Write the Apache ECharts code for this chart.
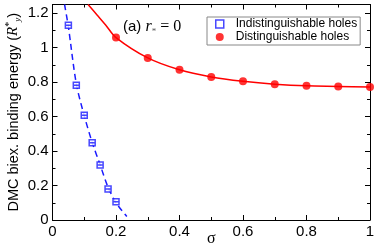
<!DOCTYPE html>
<html><head><meta charset="utf-8">
<script src="https://cdn.jsdelivr.net/npm/echarts@6/dist/echarts.min.js"></script>
<style>html,body{margin:0;padding:0;background:#fff}#c{width:374px;height:247px}</style>
</head><body><div id="c"></div>
<script>
// Data
const indistSigma = [0.05, 0.075, 0.1, 0.125, 0.15, 0.175, 0.2];
const indistEnergy = [1.13, 0.782, 0.608, 0.448, 0.319, 0.18, 0.106];
const distSigma = [0.2, 0.3, 0.4, 0.5, 0.6, 0.7, 0.8, 0.9, 1.0];
const distEnergy = [1.058, 0.94, 0.871, 0.83, 0.805, 0.788, 0.778, 0.775, 0.771];
// fitted curves
const indistFitSigma = [0.038, 0.05, 0.075, 0.1, 0.125, 0.15, 0.175, 0.2, 0.234];
const indistFitEnergy = [1.25, 1.12, 0.79, 0.605, 0.45, 0.32, 0.19, 0.1, 0.02];
const distFitSigma = [0.112, 0.141, 0.168, 0.2, 0.3, 0.4, 0.5, 0.6, 0.7, 0.8, 0.9, 1.0];
const distFitEnergy = [1.25, 1.188, 1.13, 1.058, 0.94, 0.871, 0.83, 0.805, 0.788, 0.778, 0.775, 0.771];
const xTicks = [0, 0.2, 0.4, 0.6, 0.8, 1];
const yTicks = [0, 0.2, 0.4, 0.6, 0.8, 1, 1.2];

const zip = (a, b) => a.map((v, i) => [v, b[i]]);
const BLUE = '#1a1aff', RED = '#ff0000';
const sans = 'Liberation Sans, Arial, sans-serif';
const serif = 'Liberation Serif, Times New Roman, serif';
const SQUARE = 'path://M0,0H10V10H0ZM0,5H10';

function axisBase(pos, labels) {
  return {
    type: 'value', position: pos,
    nameMoveOverlap: false,
    axisLine: { show: true, onZero: false, lineStyle: { color: '#000', width: 1 } },
    axisTick: { show: true, inside: true, length: 5, lineStyle: { color: '#000', width: 1 } },
    minorTick: { show: true, splitNumber: 2, length: 3, lineStyle: { color: '#000', width: 1 } },
    splitLine: { show: false },
    axisLabel: labels ? {
      show: true, color: '#000', fontSize: 15, fontFamily: sans, margin: 4,
      showMaxLabel: pos === 'left' ? false : true,
      formatter: v => (xTicks.concat(yTicks).some(t => Math.abs(t - v) < 1e-6) ? String(+(+v).toFixed(1)) : '')
    } : { show: false }
  };
}

const chart = echarts.init(document.getElementById('c'), null, { renderer: 'canvas' });
const option = {
  animation: false,
  backgroundColor: '#fff',
  grid: { left: 52.5, right: 4, top: 4.5, bottom: 27, containLabel: false, outerBoundsMode: 'none' },
  xAxis: [
    Object.assign(axisBase('bottom', true), { min: 0, max: 1, interval: 0.2,
      name: 'σ', nameLocation: 'middle', nameGap: 11,
      nameTextStyle: { fontSize: 16, fontFamily: serif, color: '#000' } }),
    Object.assign(axisBase('top', false), { min: 0, max: 1, interval: 0.2 })
  ],
  yAxis: [
    Object.assign(axisBase('left', true), { min: 0, max: 1.25, interval: 0.2,
      name: '{t|DMC biex. binding energy (}{i|R}{sup|*}{sub|y}{t|)}',
      nameLocation: 'middle', nameGap: 30,
      nameTextStyle: { color: '#000', rich: {
        t: { fontSize: 14.5, fontFamily: sans, color: '#000' },
        i: { fontSize: 15, fontFamily: serif, fontStyle: 'italic', color: '#000' },
        sup: { fontSize: 10, fontFamily: serif, color: '#000', verticalAlign: 'top', lineHeight: 18 },
        sub: { fontSize: 9, fontFamily: serif, fontStyle: 'italic', color: '#000', verticalAlign: 'bottom', lineHeight: 18 }
      } } }),
    Object.assign(axisBase('right', false), { min: 0, max: 1.25, interval: 0.2 })
  ],
  legend: {
    orient: 'vertical', left: 207, top: 17,
    padding: [1, 3, 2, 8], itemGap: 1,
    itemWidth: 8, itemHeight: 8,
    borderColor: '#888', borderWidth: 1,
    textStyle: { fontSize: 12, fontFamily: sans, color: '#000', padding: [0, 0, 0, 7] },
    data: [{ name: 'Indistinguishable holes', icon: 'rect', itemStyle: { color: '#fff', borderColor: BLUE, borderWidth: 1.5 } },
           { name: 'Distinguishable holes', icon: 'circle' }]
  },
  graphic: [{
    type: 'text', left: 123, top: 19,
    style: {
      text: '{a|(a) }{r|r}{s|*}{e| = 0}',
      rich: {
        a: { fontSize: 15, fontFamily: sans, fill: '#000' },
        r: { fontSize: 16, fontFamily: serif, fontStyle: 'italic', fill: '#000' },
        s: { fontSize: 9, fontFamily: serif, fill: '#555', verticalAlign: 'bottom', lineHeight: 18 },
        e: { fontSize: 16, fontFamily: serif, fill: '#000' }
      }
    }
  }],
  series: [
    { type: 'line', name: 'indistFit', data: zip(indistFitSigma, indistFitEnergy), smooth: 0.3,
      showSymbol: false, symbol: 'none', lineStyle: { color: BLUE, width: 1.5, type: [6, 4] }, z: 2, silent: true },
    { type: 'line', name: 'distFit', data: zip(distFitSigma, distFitEnergy), smooth: 0.3,
      showSymbol: false, symbol: 'none', lineStyle: { color: RED, width: 1.5 }, z: 2, silent: true },
    { type: 'scatter', name: 'Indistinguishable holes', data: zip(indistSigma, indistEnergy),
      symbol: SQUARE, symbolSize: 6,
      itemStyle: { color: '#fff', borderColor: BLUE, borderWidth: 1.5 }, z: 3 },
    { type: 'scatter', name: 'Distinguishable holes', data: zip(distSigma, distEnergy),
      symbol: 'circle', symbolSize: 8, clip: false,
      itemStyle: { color: RED }, z: 3 }
  ]
};
chart.setOption(option);
</script></body></html>
